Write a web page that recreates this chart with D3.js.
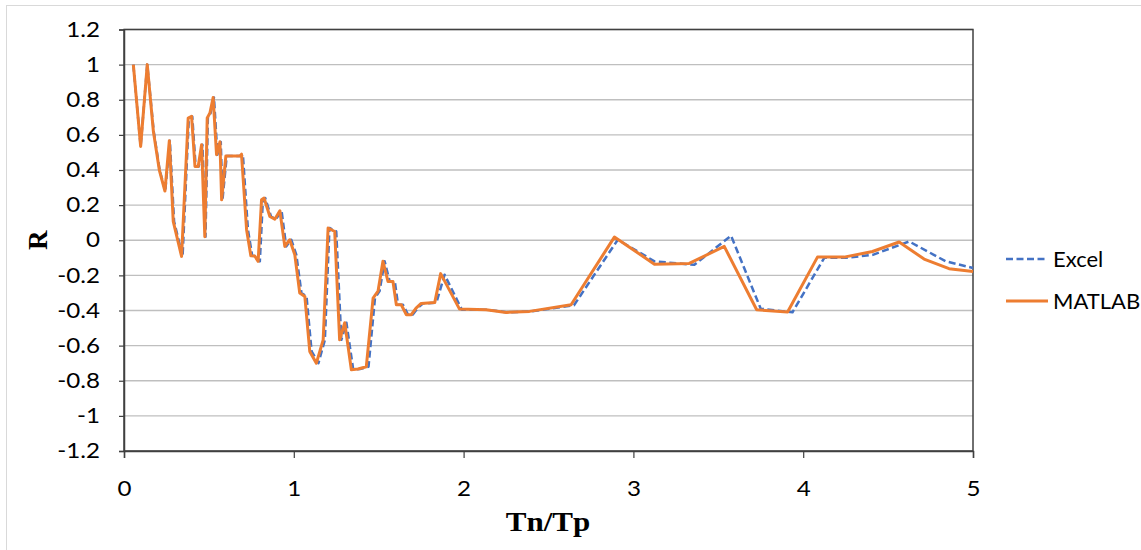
<!DOCTYPE html>
<html>
<head>
<meta charset="utf-8">
<script src="https://cdn.jsdelivr.net/npm/d3@7"></script>
<style>
  html, body { margin: 0; padding: 0; background: #fff; }
  svg { display: block; }
</style>
</head>
<body>
<svg id="chart" width="1141" height="550"></svg>
<script>
// Period ratio Tn/Tp and correlation R, computed two ways
const tnMatlab = [0.055, 0.098, 0.137, 0.173, 0.208, 0.241, 0.267, 0.29, 0.339, 0.378,
  0.398, 0.418, 0.437, 0.457, 0.476, 0.49, 0.506, 0.525, 0.545, 0.565,
  0.575, 0.6, 0.682, 0.692, 0.722, 0.747, 0.77, 0.79, 0.81, 0.825,
  0.859, 0.888, 0.918, 0.947, 0.976, 1.006, 1.035, 1.065, 1.094, 1.133,
  1.173, 1.202, 1.241, 1.27, 1.3, 1.339, 1.378, 1.427, 1.467, 1.496,
  1.525, 1.555, 1.584, 1.604, 1.633, 1.663, 1.692, 1.72, 1.75, 1.83,
  1.865, 1.976, 2.133, 2.251, 2.388, 2.633, 2.888, 3.124, 3.329, 3.535,
  3.726, 3.908, 4.084, 4.241, 4.408, 4.565, 4.712, 4.859, 5.0];
const rMatlab = [1.0, 0.534, 1.0, 0.62, 0.40, 0.28, 0.567, 0.107, -0.092, 0.696,
  0.705, 0.42, 0.42, 0.544, 0.02, 0.696, 0.724, 0.813, 0.487, 0.56,
  0.23, 0.48, 0.48, 0.49, 0.06, -0.088, -0.09, -0.12, 0.23, 0.24,
  0.135, 0.12, 0.168, -0.035, 0.003, -0.083, -0.30, -0.32, -0.633, -0.70,
  -0.567, 0.07, 0.05, -0.567, -0.47, -0.737, -0.733, -0.72, -0.33, -0.29,
  -0.12, -0.235, -0.235, -0.367, -0.367, -0.424, -0.424, -0.386, -0.36, -0.355,
  -0.19, -0.392, -0.396, -0.411, -0.405, -0.367, 0.018, -0.136, -0.132, -0.035,
  -0.396, -0.409, -0.096, -0.096, -0.064, -0.01, -0.107, -0.162, -0.178];

const tnExcel = [0.055, 0.098, 0.137, 0.175, 0.21, 0.243, 0.27, 0.295, 0.345, 0.382,
  0.402, 0.422, 0.44, 0.462, 0.48, 0.494, 0.51, 0.53, 0.55, 0.57,
  0.58, 0.605, 0.69, 0.70, 0.73, 0.755, 0.775, 0.80, 0.818, 0.832,
  0.866, 0.895, 0.928, 0.955, 0.985, 1.015, 1.045, 1.075, 1.105, 1.145,
  1.183, 1.21, 1.25, 1.28, 1.31, 1.35, 1.39, 1.44, 1.478, 1.505,
  1.535, 1.565, 1.595, 1.614, 1.643, 1.673, 1.70, 1.73, 1.76, 1.84,
  1.888, 1.99, 2.14, 2.26, 2.40, 2.65, 2.908, 3.124, 3.359, 3.575,
  3.75, 3.937, 4.124, 4.25, 4.41, 4.624, 4.84, 5.0];
const rExcel = [1.0, 0.534, 1.0, 0.62, 0.40, 0.28, 0.567, 0.107, -0.092, 0.696,
  0.705, 0.42, 0.42, 0.544, 0.02, 0.696, 0.724, 0.813, 0.487, 0.56,
  0.23, 0.48, 0.48, 0.49, 0.06, -0.088, -0.09, -0.12, 0.23, 0.24,
  0.135, 0.12, 0.168, -0.035, 0.003, -0.083, -0.30, -0.32, -0.633, -0.70,
  -0.567, 0.07, 0.05, -0.567, -0.47, -0.737, -0.733, -0.72, -0.33, -0.29,
  -0.12, -0.235, -0.235, -0.367, -0.367, -0.424, -0.424, -0.386, -0.36, -0.355,
  -0.196, -0.396, -0.396, -0.411, -0.405, -0.37, 0.003, -0.12, -0.14, 0.026,
  -0.39, -0.41, -0.10, -0.10, -0.083, -0.007, -0.12, -0.158];

const xTicks = [0, 1, 2, 3, 4, 5];
const yTicks = [-1.2, -1, -0.8, -0.6, -0.4, -0.2, 0, 0.2, 0.4, 0.6, 0.8, 1, 1.2];
const seriesNames = ["Excel", "MATLAB"];
const seriesColors = ["#4472C4", "#ED7D31"];

const svg = d3.select("#chart");
const plot = { left: 124, right: 973, top: 29.5, bottom: 451 };
const textStretch = 1.15;

const x = d3.scaleLinear().domain([0, 5]).range([plot.left, plot.right]);
const y = d3.scaleLinear().domain([-1.2, 1.2]).range([plot.bottom, plot.top]);

// outer chart frame
svg.append("rect")
  .attr("x", 6.5).attr("y", 5.5).attr("width", 1140).attr("height", 560)
  .attr("fill", "none").attr("stroke", "#d9d9d9").attr("stroke-width", 1);

// horizontal gridlines
svg.append("g")
  .selectAll("line")
  .data(yTicks)
  .join("line")
  .attr("x1", plot.left).attr("x2", plot.right)
  .attr("y1", d => y(d)).attr("y2", d => y(d))
  .attr("stroke", "#bfbfbf").attr("stroke-width", 1.3);

// plot area border
svg.append("rect")
  .attr("x", plot.left).attr("y", plot.top)
  .attr("width", plot.right - plot.left).attr("height", plot.bottom - plot.top)
  .attr("fill", "none").attr("stroke", "#404040").attr("stroke-width", 1.5);

const tickFont = "Lato, 'Liberation Sans', sans-serif";
const plainNumber = d => String(d);

// widen tick text slightly about its anchor point
function stretchText(sel) {
  sel.each(function () {
    const t = d3.select(this);
    const tx = +t.attr("x") || 0;
    t.attr("x", 0).attr("transform", `translate(${tx},0) scale(${textStretch},1)`);
  });
}

// y axis
const yAxis = svg.append("g")
  .attr("transform", `translate(${plot.left},0)`)
  .call(d3.axisLeft(y).tickValues(yTicks).tickSize(5).tickPadding(19)
    .tickFormat(plainNumber));
yAxis.select(".domain").attr("stroke", "#404040").attr("stroke-width", 1.5);
yAxis.selectAll(".tick line").attr("stroke", "#404040").attr("stroke-width", 1.2);
yAxis.selectAll(".tick text")
  .attr("font-family", tickFont).attr("font-size", 21).attr("fill", "#000")
  .call(stretchText);

// x axis
const xAxis = svg.append("g")
  .attr("transform", `translate(0,${plot.bottom})`)
  .call(d3.axisBottom(x).tickValues(xTicks).tickSize(7).tickPadding(23)
    .tickFormat(plainNumber));
xAxis.select(".domain").attr("stroke", "#404040").attr("stroke-width", 1.5);
xAxis.selectAll(".tick line").attr("stroke", "#404040").attr("stroke-width", 1.2);
xAxis.selectAll(".tick text")
  .attr("font-family", tickFont).attr("font-size", 21).attr("fill", "#000")
  .call(stretchText);

// axis titles
svg.append("text")
  .attr("transform", `translate(47,${(plot.top + plot.bottom) / 2}) rotate(-90)`)
  .attr("text-anchor", "middle")
  .attr("font-family", "'Liberation Serif', 'DejaVu Serif', serif")
  .attr("font-weight", "bold").attr("font-size", 27)
  .text("R");

svg.append("text")
  .attr("transform", `translate(548,531) scale(${textStretch},1)`)
  .attr("text-anchor", "middle")
  .attr("font-family", "'Liberation Serif', 'DejaVu Serif', serif")
  .attr("font-weight", "bold").attr("font-size", 27)
  .text("Tn/Tp");

// series lines
const line = d3.line().x(d => x(d[0])).y(d => y(d[1]));
const excelData = tnExcel.map((t, i) => [t, rExcel[i]]);
const matlabData = tnMatlab.map((t, i) => [t, rMatlab[i]]);

svg.append("path")
  .datum(excelData)
  .attr("d", line)
  .attr("fill", "none").attr("stroke", seriesColors[0])
  .attr("stroke-width", 2.5).attr("stroke-dasharray", "7,3.5")
  .attr("stroke-linejoin", "round");

svg.append("path")
  .datum(matlabData)
  .attr("d", line)
  .attr("fill", "none").attr("stroke", seriesColors[1])
  .attr("stroke-width", 3).attr("stroke-linejoin", "round");

// legend
const legend = svg.append("g");
const legendY = [259, 301];
seriesNames.forEach((name, i) => {
  legend.append("line")
    .attr("x1", 1006).attr("x2", 1048)
    .attr("y1", legendY[i]).attr("y2", legendY[i])
    .attr("stroke", seriesColors[i])
    .attr("stroke-width", i === 0 ? 2.5 : 3)
    .attr("stroke-dasharray", i === 0 ? "7,3.5" : null);
  legend.append("text")
    .attr("x", 1053).attr("y", legendY[i])
    .attr("dy", "0.35em")
    .attr("font-family", tickFont).attr("font-size", 22)
    .attr("fill", "#000")
    .text(name);
});
</script>
</body>
</html>
